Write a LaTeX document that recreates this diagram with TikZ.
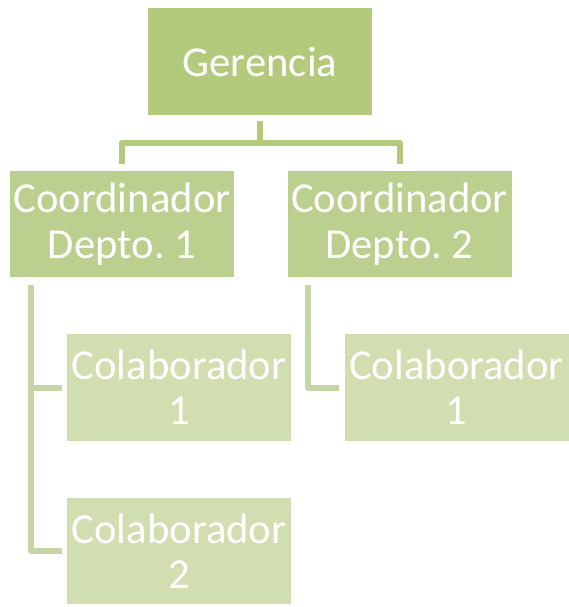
\documentclass[tikz,border=0pt]{standalone}
\usepackage{fontspec}
\setmainfont{Carlito}
\usetikzlibrary{calc}
\frenchspacing

\definecolor{jefegreen}{HTML}{B3CA7D}
\definecolor{coordgreen}{HTML}{BBCF8F}
\definecolor{colabgreen}{HTML}{D0DEB0}
\definecolor{treegreen}{HTML}{C3D6A3}

\begin{document}
\begin{tikzpicture}[
  x=0.75pt, y=-0.75pt,
  unit/.style={
    minimum width=168pt,
    minimum height=80pt,
    inner sep=0pt,
    align=center,
    text=white,
    font=\fontsize{32}{34}\selectfont
  },
  jefe/.style={unit, fill=jefegreen},
  coord/.style={unit, fill=coordgreen},
  colab/.style={unit, fill=colabgreen},
  link/.style={draw=jefegreen, line width=4.5pt, line join=round},
  sublink/.style={link, draw=treegreen}
]
\useasboundingbox (0,0) rectangle (568,607);

\node[jefe] (ger) at (260,61.5) {Gerencia};

\node[coord] (dep1) at (122,224) {Coordinador\\Depto. 1};
\node[coord] (dep2) at (399.5,224) {Coordinador\\Depto. 2};

\node[colab] (col11) at (179,387.5) {Colaborador\\1};
\node[colab] (col12) at (179,551) {Colaborador\\2};
\node[colab] (col21) at (456.5,387.5) {Colaborador\\1};

% top level
\coordinate (bus) at (260,143);
\draw[link] ($(ger.south)+(0,6)$) -- (bus);
\draw[link] ($(dep1.north)+(0,-6)$) |- (bus) -| ($(dep2.north)+(0,-6)$);

% department 1
\coordinate (trunk1) at ($(dep1.south west)+(21,7)$);
\draw[sublink] (trunk1) |- ($(col12.west)+(-5,0)$);
\draw[sublink] (trunk1 |- col11.west) -- ($(col11.west)+(-5,0)$);

% department 2
\coordinate (trunk2) at ($(dep2.south west)+(21,7)$);
\draw[sublink] (trunk2) |- ($(col21.west)+(-5,0)$);
\end{tikzpicture}
\end{document}
